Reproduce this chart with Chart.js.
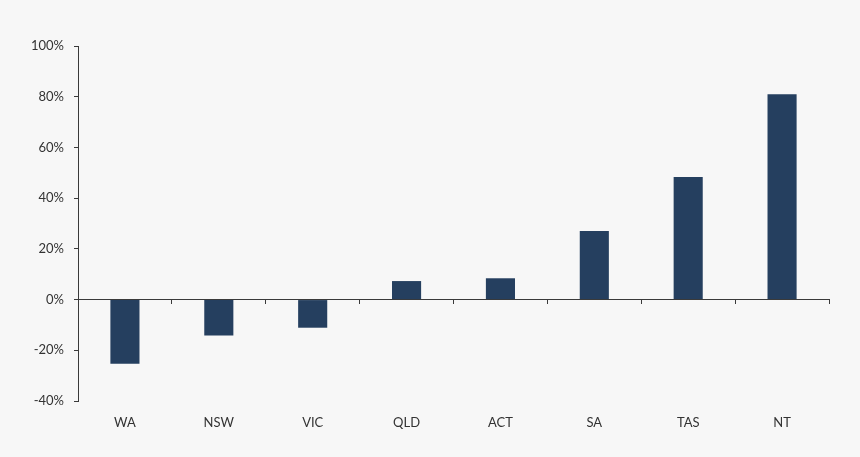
<!DOCTYPE html>
<html>
<head>
<meta charset="utf-8">
<script src="https://cdn.jsdelivr.net/npm/chart.js@4"></script>
<style>
  html, body { margin: 0; padding: 0; background: #f7f7f7; }
  #wrap { width: 860px; height: 457px; position: relative; }
</style>
</head>
<body>
<div id="wrap"><canvas id="growthChart"></canvas></div>
<script>
// States / territories
const states = ['WA', 'NSW', 'VIC', 'QLD', 'ACT', 'SA', 'TAS', 'NT'];
// Change (%)
const changePct = [-25.3, -14.2, -11.1, 7.3, 8.4, 27.0, 48.3, 81.0];
// Y axis range
const yMin = -40;
const yMax = 100;
const yStep = 20;

const axisColor = '#3a3a3a';
const textColor = '#333333';
const fontFamily = 'Lato, "Open Sans", sans-serif';

const ctx = document.getElementById('growthChart').getContext('2d');

const growthChart = new Chart(ctx, {
  type: 'bar',
  data: {
    labels: states,
    datasets: [{
      data: changePct,
      backgroundColor: '#253f5f',
      borderWidth: 0,
      xAxisID: 'x',
      yAxisID: 'y'
    }]
  },
  options: {
    responsive: true,
    maintainAspectRatio: false,
    animation: false,
    layout: {
      padding: { top: 46, right: 31, bottom: 0, left: 0 }
    },
    plugins: {
      legend: { display: false },
      tooltip: { enabled: false }
    },
    datasets: {
      bar: { categoryPercentage: 1, barPercentage: 0.31 }
    },
    scales: {
      x: {
        position: 'bottom',
        grid: { display: false },
        border: { display: false },
        ticks: {
          color: textColor,
          padding: 6,
          font: { family: fontFamily, size: 13 }
        },
        afterFit: function(scale) { scale.height = 56; }
      },
      x2: {
        type: 'category',
        labels: states,
        position: { y: 0 },
        offset: true,
        grid: {
          offset: true,
          drawOnChartArea: false,
          tickLength: 4,
          color: axisColor
        },
        border: { color: axisColor, width: 1 },
        ticks: { display: false }
      },
      y: {
        min: yMin,
        max: yMax,
        grid: {
          drawOnChartArea: false,
          tickLength: 4,
          color: axisColor
        },
        border: { color: axisColor, width: 1 },
        ticks: {
          stepSize: yStep,
          color: textColor,
          padding: 10,
          font: { family: fontFamily, size: 13 },
          callback: function(value) { return value + '%'; }
        },
        afterFit: function(scale) { scale.width = 78; }
      }
    }
  }
});
</script>
</body>
</html>
